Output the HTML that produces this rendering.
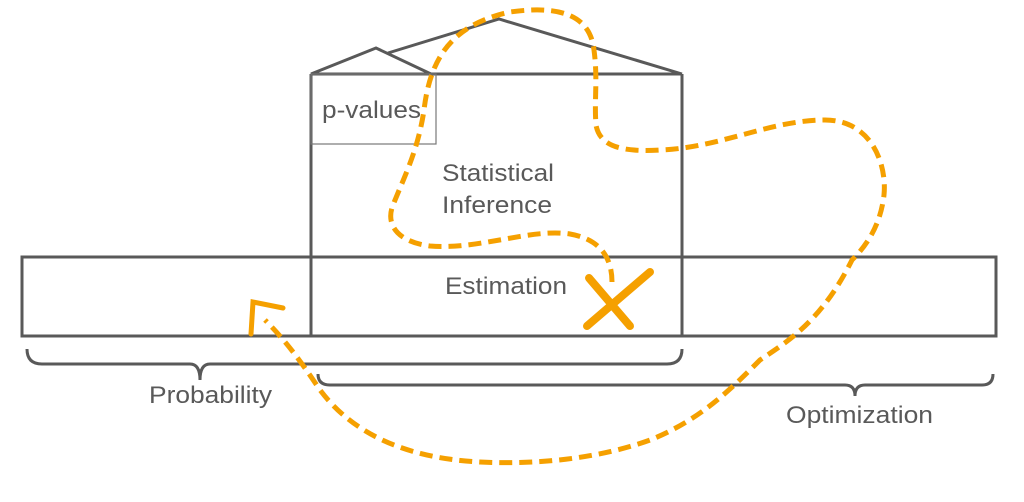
<!DOCTYPE html>
<html><head><style>
html,body{margin:0;padding:0;background:#fff;}
svg{display:block;}
text{font-family:"Liberation Sans",sans-serif;fill:#595959;}
</style></head><body>
<svg width="1024" height="502" viewBox="0 0 1024 502" xmlns="http://www.w3.org/2000/svg">
<g fill="none" stroke="#595959" stroke-width="3">
<rect x="22" y="257" width="974" height="79"/>
<line x1="311" y1="74" x2="311" y2="336"/>
<line x1="682" y1="74" x2="682" y2="336"/>
<line x1="311" y1="74" x2="682" y2="74"/>
<polyline points="311,74 376,48 431,74"/>
<polyline points="388,53 499,19 682,74"/>
<path d="M27,349 Q27,364 42,364 L190,364 Q200,364 200,380 Q200,364 210,364 L667,364 Q682,364 682,349"/>
<path d="M318,374 Q318,385 330,385 L845,385 Q855,385 855,396 Q855,385 865,385 L982,385 Q993,385 993,374"/>
</g>
<rect x="311" y="74" width="125" height="70" fill="none" stroke="#777" stroke-width="1.2"/>
<text x="322" y="118" font-size="24" textLength="99" lengthAdjust="spacingAndGlyphs">p-values</text>
<text x="442" y="181" font-size="24" textLength="112" lengthAdjust="spacingAndGlyphs">Statistical</text>
<text x="442" y="213" font-size="24" textLength="110" lengthAdjust="spacingAndGlyphs">Inference</text>
<text x="445" y="294" font-size="24" textLength="122" lengthAdjust="spacingAndGlyphs">Estimation</text>
<text x="149" y="403" font-size="24" textLength="123" lengthAdjust="spacingAndGlyphs">Probability</text>
<text x="786" y="423" font-size="24" textLength="147" lengthAdjust="spacingAndGlyphs">Optimization</text>
<g fill="none" stroke="#F5A000" stroke-width="5" stroke-dasharray="13,7">
<path d="M612,282 C612,262 604,240 570,234 C530,228 480,250 430,246 C398,242 385,225 393,205 C405,175 418,150 424,110 C430,60 450,25 510,12 C560,5 590,15 594,50 C598,80 594,100 596,125 C600,148 625,152 660,150 C720,148 770,120 825,120 C872,120 887,165 884,195 C880,230 862,250 852,260 C822,320 790,340 760,360 C730,390 700,420 650,440 C600,458 540,465 480,462 C400,458 350,430 320,390 C300,360 285,340 265,320"/>
</g>
<g fill="none" stroke="#F5A000" stroke-width="5" stroke-linecap="round">
<path d="M251,334 L253,302 L283,308"/>
</g>
<g fill="none" stroke="#F5A000" stroke-width="8" stroke-linecap="round">
<path d="M589,278 L630,326"/>
<path d="M650,272 L587,326"/>
</g>
</svg>
</body></html>
